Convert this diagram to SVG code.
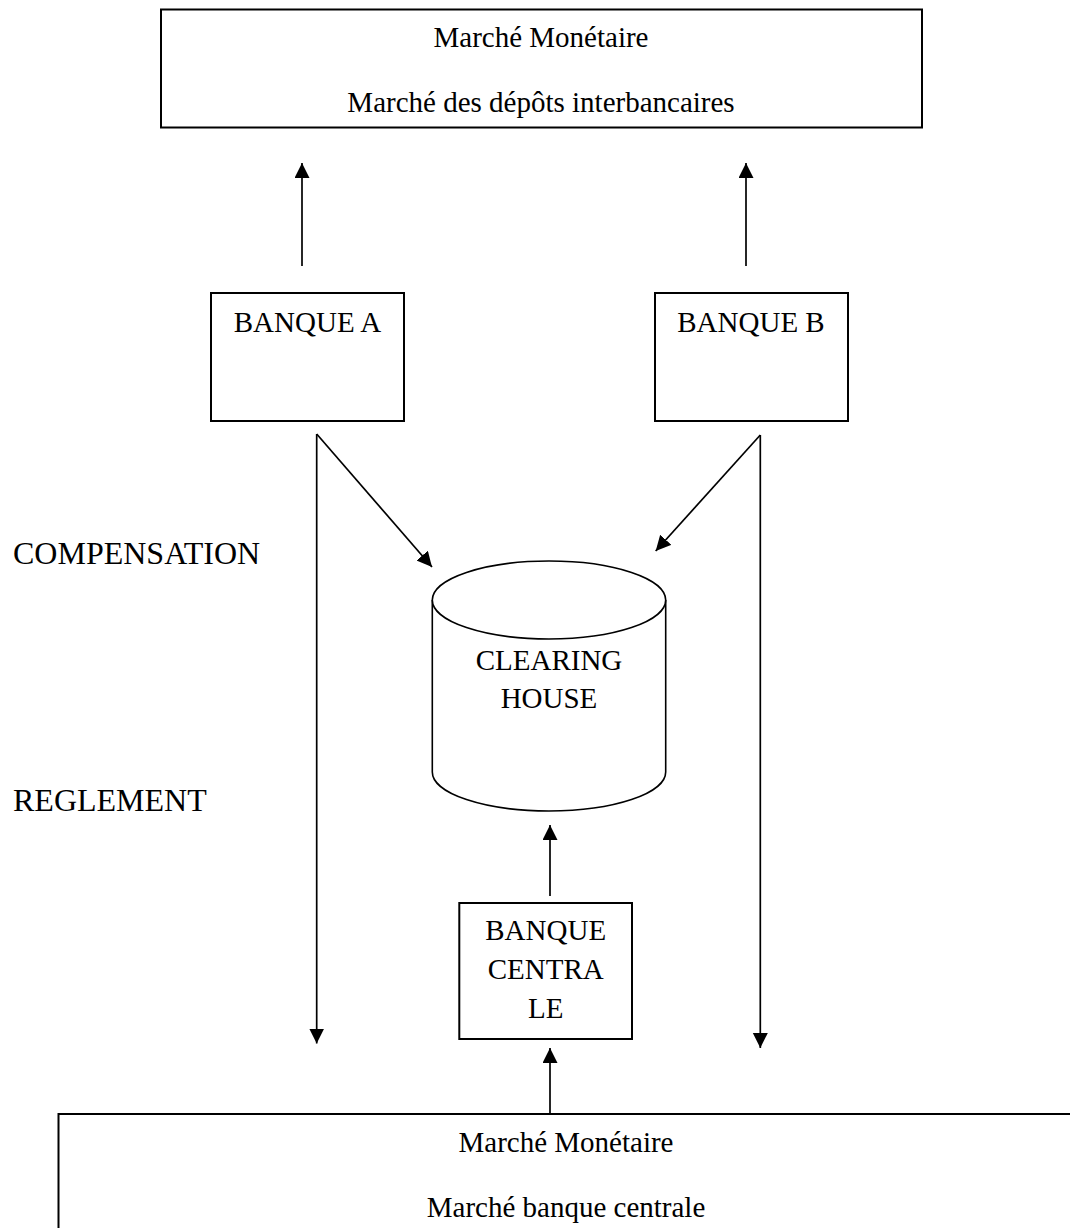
<svg xmlns="http://www.w3.org/2000/svg" width="1070" height="1228" viewBox="0 0 1070 1228">
<defs>
<style>
.box{fill:#fff;stroke:#000;stroke-width:2}
.cyl{fill:#fff;stroke:#000;stroke-width:1.6}
.t{font-family:"Liberation Serif","Times New Roman",serif;font-size:29px;fill:#000;text-anchor:middle}
.lbl{font-family:"Liberation Serif","Times New Roman",serif;font-size:32px;fill:#000}
.c{fill:none;stroke:#000;stroke-width:1.7}
</style>
<marker id="ah" markerUnits="userSpaceOnUse" markerWidth="16" markerHeight="16" refX="15" refY="7.5" orient="auto">
<path d="M0,0 L15,7.5 L0,15 z" fill="#000"/>
</marker>
</defs>
<rect width="1070" height="1228" fill="#fff"/>
<g id="marche-interbancaire">
<rect class="box" x="161" y="9.5" width="761" height="118"/>
<text class="t" x="541" y="47">Marché Monétaire</text>
<text class="t" x="541" y="112">Marché des dépôts interbancaires</text>
</g>
<g id="banque-a">
<rect class="box" x="211" y="293" width="193" height="128"/>
<text class="t" x="307.5" y="332">BANQUE A</text>
</g>
<g id="banque-b">
<rect class="box" x="655" y="293" width="193" height="128"/>
<text class="t" x="751" y="332">BANQUE B</text>
</g>
<g id="clearing-house">
<path class="cyl" d="M432.3,600 L432.3,772 A116.7,39 0 0 0 665.7,772 L665.7,600"/>
<ellipse class="cyl" cx="549" cy="600" rx="116.7" ry="39"/>
<text class="t" x="549" y="670">CLEARING</text>
<text class="t" x="549" y="708">HOUSE</text>
</g>
<g id="banque-centrale">
<rect class="box" x="459.3" y="903" width="172.7" height="136"/>
<text class="t" x="545.7" y="940">BANQUE</text>
<text class="t" x="545.7" y="979">CENTRA</text>
<text class="t" x="545.7" y="1018">LE</text>
</g>
<g id="marche-banque-centrale">
<rect class="box" x="58.5" y="1114" width="1020" height="130"/>
<text class="t" x="566" y="1152">Marché Monétaire</text>
<text class="t" x="566" y="1217">Marché banque centrale</text>
</g>
<g id="labels">
<text class="lbl" x="13" y="564">COMPENSATION</text>
<text class="lbl" x="13" y="811">REGLEMENT</text>
</g>
<g id="connectors">
<line class="c" x1="302" y1="266" x2="302" y2="163" marker-end="url(#ah)"/>
<line class="c" x1="746" y1="266" x2="746" y2="163" marker-end="url(#ah)"/>
<line class="c" x1="316.7" y1="434" x2="432" y2="567" marker-end="url(#ah)"/>
<line class="c" x1="760.3" y1="435" x2="655.7" y2="551" marker-end="url(#ah)"/>
<line class="c" x1="316.7" y1="434" x2="316.7" y2="1043.5" marker-end="url(#ah)"/>
<line class="c" x1="760.3" y1="435" x2="760.3" y2="1048" marker-end="url(#ah)"/>
<line class="c" x1="550" y1="896" x2="550" y2="825" marker-end="url(#ah)"/>
<line class="c" x1="550" y1="1114" x2="550" y2="1048" marker-end="url(#ah)"/>
</g>
</svg>
